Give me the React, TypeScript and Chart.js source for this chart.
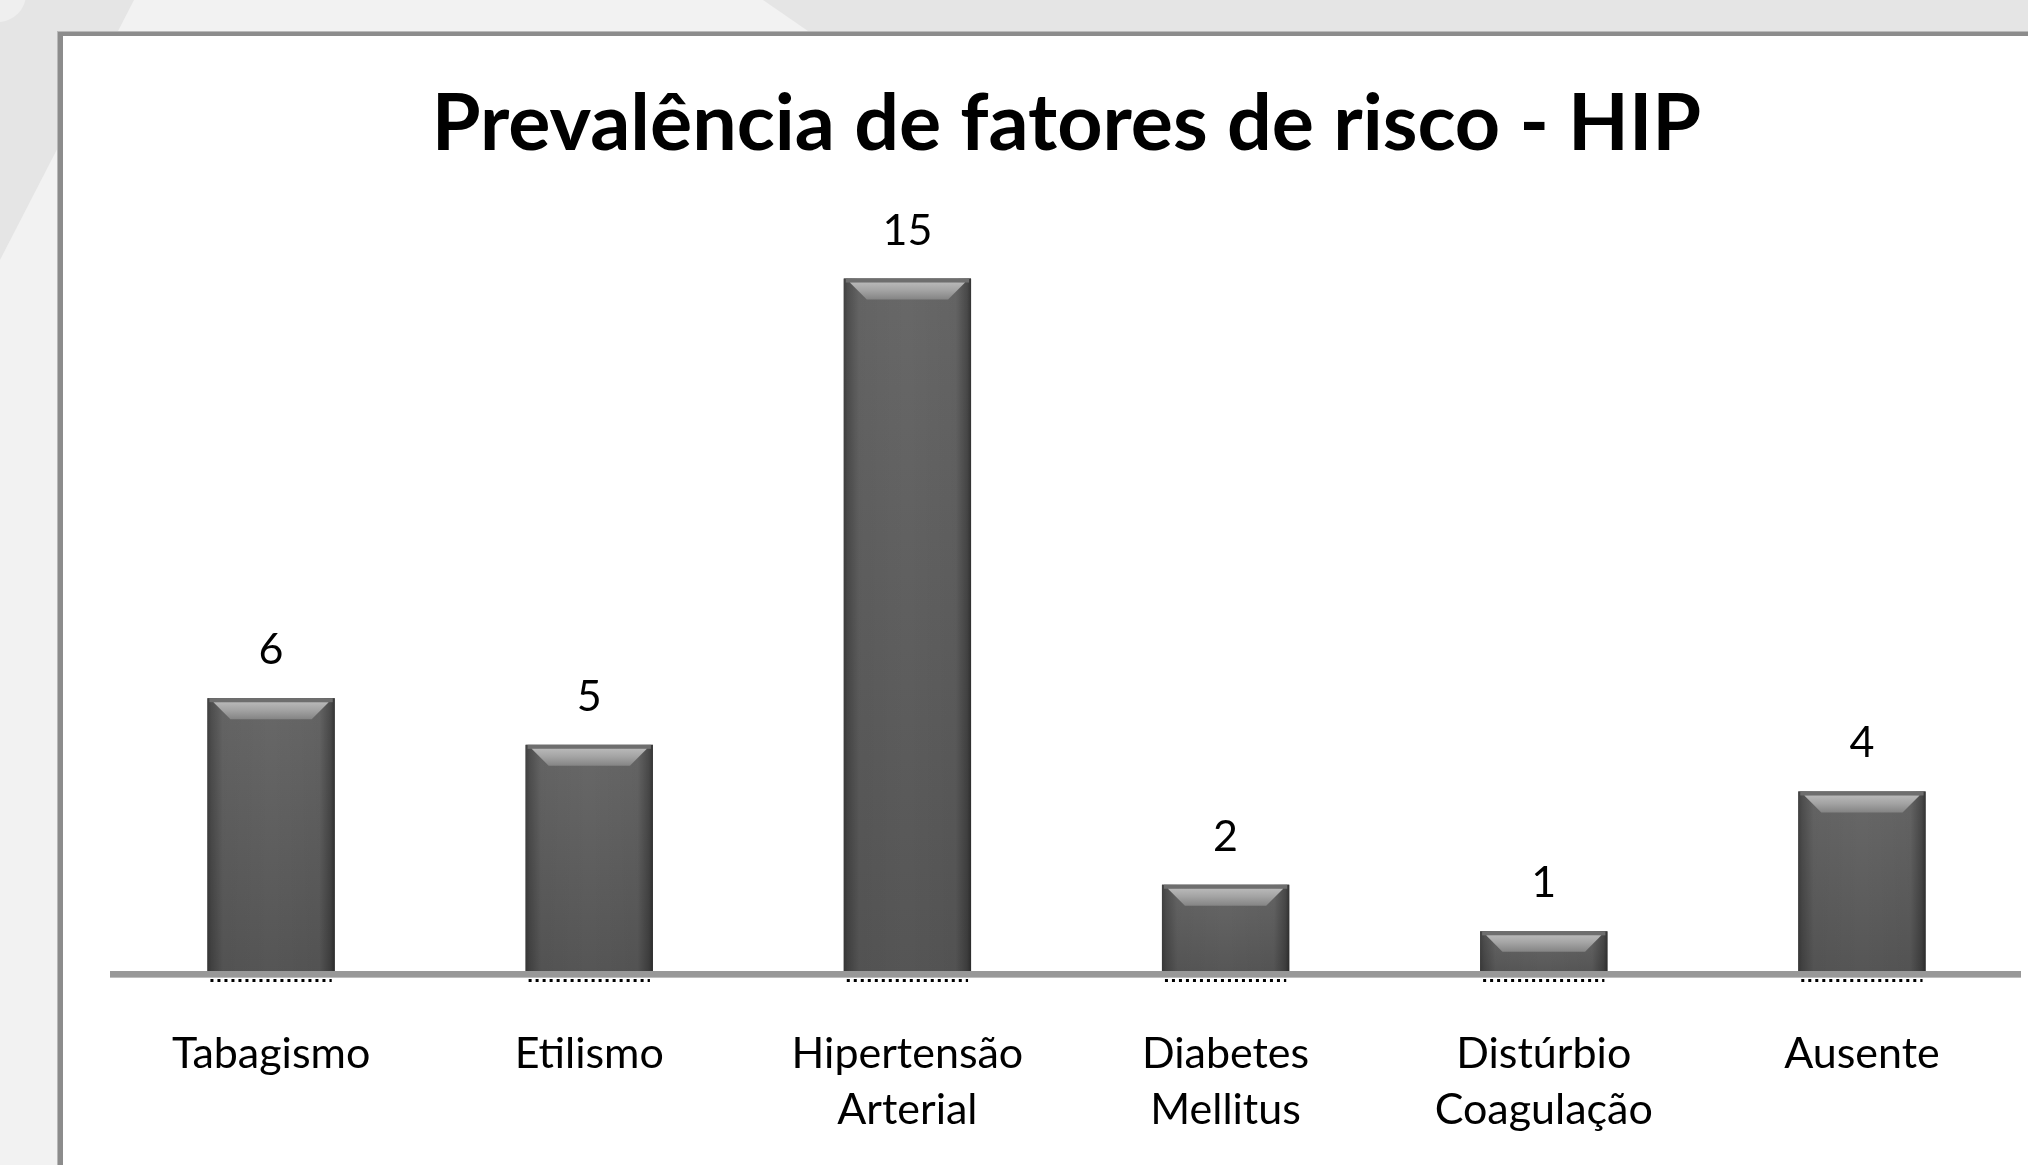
import React, { useEffect, useRef } from 'react';
import { Chart, registerables } from 'chart.js';

Chart.register(...registerables);

const categories: (string | string[])[] = [
  'Tabagismo',
  'Etilismo',
  ['Hipertensão', 'Arterial'],
  ['Diabetes', 'Mellitus'],
  ['Distúrbio', 'Coagulação'],
  'Ausente',
];
const values: number[] = [6, 5, 15, 2, 1, 4];
const titleText = 'Prevalência de fatores de risco - HIP';
const yMax = 17;

const W = 2028;
const H = 1165;
const FONT = 'Lato, Carlito, Calibri, "Open Sans", sans-serif';

const barDecor = {
  id: 'barDecor',
  afterDatasetsDraw(chart: any) {
    const ctx: CanvasRenderingContext2D = chart.ctx;
    const meta = chart.getDatasetMeta(0);
    const ys = chart.scales.y;
    const zero = ys.getPixelForValue(0);
    const area = chart.chartArea;
    meta.data.forEach((bar: any, i: number) => {
      const { x, y, width } = bar.getProps(['x', 'y', 'width'], true);
      const x0 = x - width / 2;
      const x1 = x + width / 2;
      const h = zero - y;
      ctx.save();
      // body
      const g = ctx.createLinearGradient(0, y, 0, zero);
      g.addColorStop(0, '#686868');
      g.addColorStop(1, '#555555');
      ctx.fillStyle = g;
      ctx.fillRect(x0, y, width, h);
      // side shading
      const s = ctx.createLinearGradient(x0, 0, x1, 0);
      s.addColorStop(0, 'rgba(0,0,0,0.38)');
      s.addColorStop(0.03, 'rgba(0,0,0,0.25)');
      s.addColorStop(0.12, 'rgba(0,0,0,0.04)');
      s.addColorStop(0.5, 'rgba(0,0,0,0.0)');
      s.addColorStop(0.88, 'rgba(0,0,0,0.04)');
      s.addColorStop(0.97, 'rgba(0,0,0,0.3)');
      s.addColorStop(1, 'rgba(0,0,0,0.5)');
      ctx.fillStyle = s;
      ctx.fillRect(x0, y, width, h);
      // top edge
      ctx.fillStyle = '#6e6e6e';
      ctx.fillRect(x0 + 2, y, width - 4, 4);
      // top bevel highlight
      const bev = Math.min(17, Math.max(6, h * 0.35));
      const hg = ctx.createLinearGradient(0, y + 4, 0, y + 4 + bev);
      hg.addColorStop(0, '#b8b8b8');
      hg.addColorStop(0.45, '#a4a4a4');
      hg.addColorStop(1, '#848484');
      ctx.fillStyle = hg;
      ctx.beginPath();
      ctx.moveTo(x0 + 6, y + 4);
      ctx.lineTo(x1 - 6, y + 4);
      ctx.lineTo(x1 - 6 - bev, y + 4 + bev);
      ctx.lineTo(x0 + 6 + bev, y + 4 + bev);
      ctx.closePath();
      ctx.fill();
      // value label
      ctx.fillStyle = '#000';
      ctx.font = `43px ${FONT}`;
      ctx.textAlign = 'center';
      ctx.textBaseline = 'alphabetic';
      ctx.fillText(String(values[i]), x, y - 34);
      ctx.restore();
    });
    // axis line
    ctx.save();
    ctx.fillStyle = '#989898';
    ctx.fillRect(area.left - 2, zero - 7, area.right - area.left + 2, 7);
    ctx.fillStyle = '#bdbdbd';
    ctx.fillRect(area.left - 2, zero - 1, area.right - area.left + 2, 1);
    // dotted marks under bars
    ctx.strokeStyle = '#000';
    ctx.lineWidth = 3;
    ctx.setLineDash([3, 4]);
    meta.data.forEach((bar: any) => {
      const { x, width } = bar.getProps(['x', 'width'], true);
      ctx.beginPath();
      ctx.moveTo(x - width / 2 + 3, zero + 2.5);
      ctx.lineTo(x + width / 2 - 3, zero + 2.5);
      ctx.stroke();
    });
    ctx.restore();
  },
};

export default function App() {
  const ref = useRef<HTMLCanvasElement | null>(null);

  useEffect(() => {
    if (!ref.current) return;
    const chart = new Chart(ref.current, {
      type: 'bar',
      data: {
        labels: categories as any,
        datasets: [
          {
            data: values,
            backgroundColor: '#5e5e5e',
            borderWidth: 0,
            barPercentage: 0.4,
            categoryPercentage: 1,
          },
        ],
      },
      options: {
        responsive: false,
        animation: false,
        layout: { padding: { left: 112, right: 7, top: 0, bottom: -21 } },
        plugins: {
          legend: { display: false },
          tooltip: { enabled: false },
          title: {
            display: true,
            text: titleText,
            color: '#000',
            font: { family: FONT, size: 79, weight: 'bold', lineHeight: 1.2 },
            padding: { top: 77.2, bottom: 13.3 },
          },
        },
        scales: {
          x: {
            grid: { display: false, drawTicks: false },
            border: { display: false },
            ticks: {
              color: '#000',
              padding: 48,
              maxRotation: 0,
              autoSkip: false,
              font: { family: FONT, size: 43, lineHeight: '56px' as any },
            },
          },
          y: {
            display: false,
            min: 0,
            max: yMax,
          },
        },
      },
      plugins: [barDecor],
    });
    return () => chart.destroy();
  }, []);

  return (
    <div
      style={{
        position: 'absolute',
        left: 0,
        top: 0,
        width: W,
        height: H,
        overflow: 'hidden',
        background: '#f2f2f2',
      }}
    >
      <svg width={W} height={H} style={{ position: 'absolute', left: 0, top: 0 }}>
        <polygon points="0,0 134,0 0,260" fill="#e5e5e5" />
        <circle cx={-2} cy={-6} r={28} fill="#efefef" />
        <polygon points={`763,0 ${W},0 ${W},60 850,60`} fill="#e5e5e5" />
      </svg>
      <div
        style={{
          position: 'absolute',
          left: 58,
          top: 32,
          width: W,
          height: H,
          background: '#ffffff',
          borderLeft: '5px solid #8c8c8c',
          borderTop: '4px solid #8c8c8c',
          boxShadow: '-1px -1px 0 #b8b8b8',
        }}
      />
      <canvas
        ref={ref}
        width={W}
        height={H}
        style={{ position: 'absolute', left: 0, top: 0, width: W, height: H }}
      />
    </div>
  );
}
